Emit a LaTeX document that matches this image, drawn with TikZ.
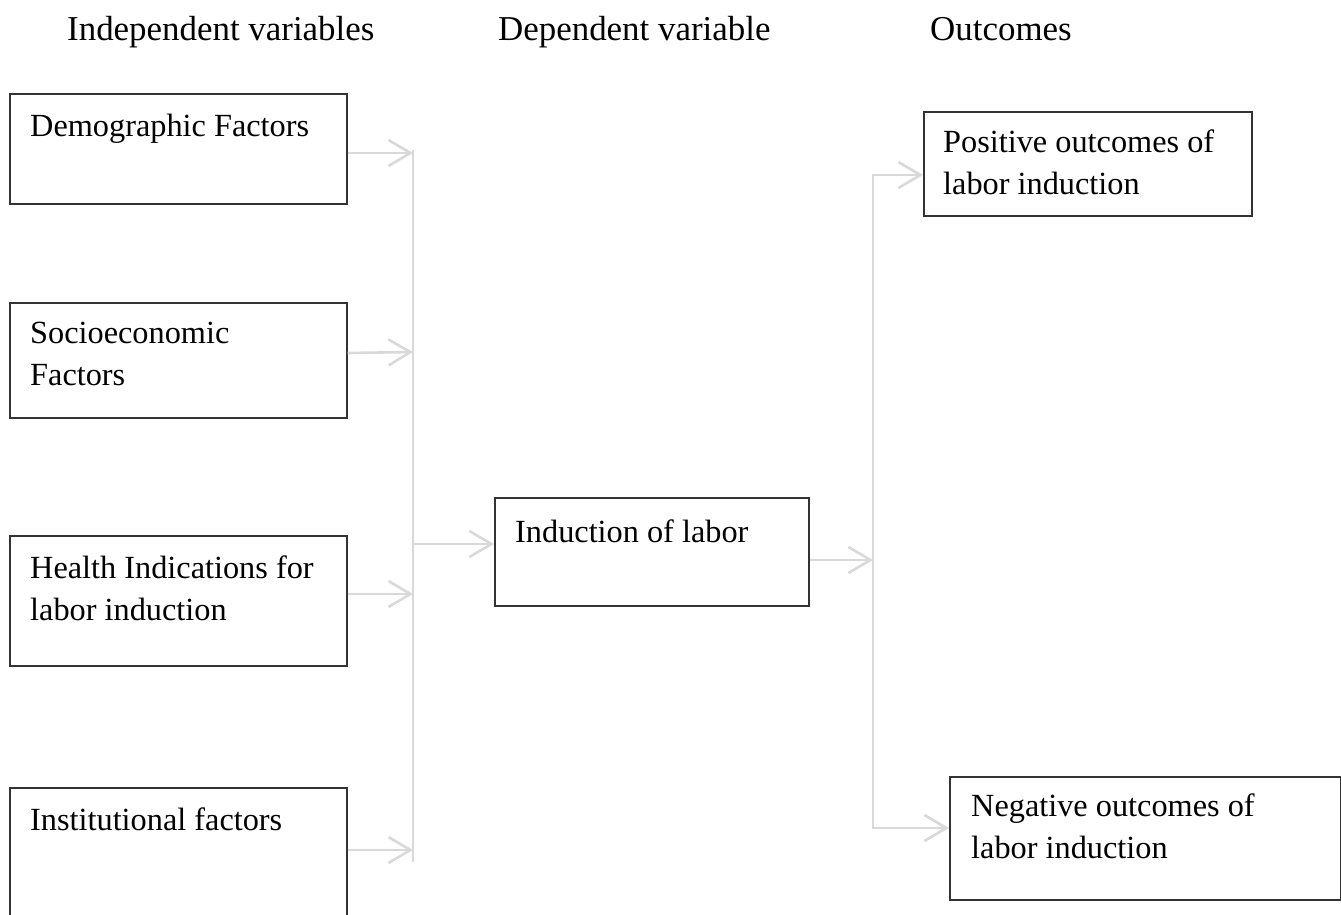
\documentclass[tikz,border=0pt]{standalone}
\usepackage{fontspec}
\setmainfont{Liberation Serif}
\usetikzlibrary{arrows.meta,calc}
\definecolor{conngray}{HTML}{D9D9D9}
\definecolor{boxline}{HTML}{333333}
\tikzset{
  box/.style={draw=boxline, line width=1.6pt, anchor=north west, inner sep=0pt},
  lbl/.style={anchor=base west, inner sep=0pt, align=left, font=\fontsize{32.3}{42}\selectfont},
  ttl/.style={anchor=base west, inner sep=0pt, font=\fontsize{34.9}{42}\selectfont},
  conn/.style={draw=conngray, line width=2.6pt},
  arr/.style={conn, -{Straight Barb[length=22pt,width=26pt,line width=2.6pt]}}
}
\begin{document}
\begin{tikzpicture}[x=1pt,y=-1pt]
\clip (0,0) rectangle (1341,915);
\useasboundingbox (0,0) rectangle (1341,915);
% titles
\node[ttl] (t1) at (67,41) {Independent variables};
\node[ttl] (t2) at (498,41) {Dependent variable};
\node[ttl] (t3) at (930,41) {Outcomes};
% boxes
\node[box, minimum width=337pt, minimum height=110pt] (demo) at (9,93) {};
\node[box, minimum width=337pt, minimum height=115pt] (socio) at (9,302) {};
\node[box, minimum width=337pt, minimum height=130pt] (health) at (9,535) {};
\node[box, minimum width=337pt, minimum height=200pt] (inst) at (9,787) {};
\node[box, minimum width=314pt, minimum height=108pt] (ind) at (494,497) {};
\node[box, minimum width=328pt, minimum height=104pt] (pos) at (923,111) {};
\node[box, minimum width=391pt, minimum height=123pt] (neg) at (949,776) {};
% labels (base anchor = baseline of last line)
\node[lbl] (demoL) at ($(demo.north west)+(21,44)$) {Demographic Factors};
\node[lbl] (socioL) at ($(socio.north west)+(21,83)$) {Socioeconomic\\Factors};
\node[lbl] (healthL) at ($(health.north west)+(21,85)$) {Health Indications for\\labor induction};
\node[lbl] (instL) at ($(inst.north west)+(21,43)$) {Institutional factors};
\node[lbl] (indL) at ($(ind.north west)+(21,45)$) {Induction of labor};
\node[lbl] (posL) at ($(pos.north west)+(20,83)$) {Positive outcomes of\\labor induction};
\node[lbl] (negL) at ($(neg.north west)+(22,82)$) {Negative outcomes of\\labor induction};
% left bus
\coordinate (lb1) at (413,150);
\coordinate (lb2) at (413,862);
\coordinate (a1) at (413,153);
\coordinate (a2) at (413,352);
\coordinate (a3) at (413,594);
\coordinate (a4) at (413,850);
\coordinate (a5) at (413,544);
\draw[conn] (lb1) -- (lb2);
\draw[arr] (demo.east |- a1) -- (a1);
\draw[arr] (socio.east |- 0,353) -- (a2);
\draw[arr] (health.east |- a3) -- (a3);
\draw[arr] (inst.east |- a4) -- (a4);
\draw[arr] (a5) -- (ind.west |- a5);
% right bus
\coordinate (r0) at (873,560);
\coordinate (rt) at (873,175);
\coordinate (rb) at (873,828);
\draw[arr] (ind.east |- r0) -- (r0);
\draw[arr] (r0) -- (rt) -- (pos.west |- rt);
\draw[arr] (r0) -- (rb) -- (neg.west |- rb);
\end{tikzpicture}
\end{document}
